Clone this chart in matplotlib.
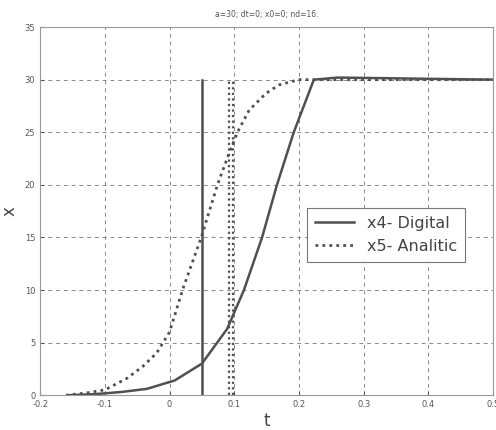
import matplotlib.pyplot as plt
import numpy as np

# digital response (solid)
t_dig = [-0.155, -0.115, -0.075, -0.035, 0.008, 0.05, 0.089, 0.115, 0.143, 0.166, 0.192, 0.223, 0.26, 0.5]
x_dig = [0.0, 0.1, 0.3, 0.6, 1.4, 3.0, 6.3, 10.0, 15.0, 20.0, 25.0, 30.0, 30.2, 30.0]

# analytic response (dotted)
t_ana = [-0.16, -0.13, -0.1, -0.066, -0.042, -0.02, 0.0, 0.02, 0.049, 0.074, 0.092, 0.105, 0.123, 0.149, 0.169, 0.2, 0.5]
x_ana = [0.0, 0.2, 0.5, 1.6, 2.7, 4.0, 6.0, 10.0, 15.0, 20.0, 23.0, 25.0, 27.1, 28.7, 29.5, 30.0, 30.0]

# marker lines
t_mark_dig = [0.05]
t_mark_ana = [0.092, 0.098]
x_mark_top = 30

xticks = [-0.2, -0.1, 0, 0.1, 0.2, 0.3, 0.4, 0.5]
xticklabels = ['-0.2', '-0.1', '0', '0.1', '0.2', '0.3', '0.4', '0.5']
yticks = [0, 5, 10, 15, 20, 25, 30, 35]

col = '#505050'

fig = plt.figure(figsize=(4.96, 4.30), dpi=100)
ax = fig.add_axes([0.081, 0.081, 0.913, 0.856])

ax.plot(t_dig, x_dig, color=col, lw=1.8, label='x4- Digital')
ax.plot(t_ana, x_ana, color=col, lw=2.0, ls=(0, (1, 1.5)), label='x5- Analitic')
for tm in t_mark_dig:
    ax.plot([tm, tm], [0, x_mark_top], color=col, lw=1.8)
for tm in t_mark_ana:
    ax.plot([tm, tm], [0, x_mark_top], color=col, lw=1.6, ls=(0, (1, 1.5)))

ax.set_xlim(-0.2, 0.5)
ax.set_ylim(0, 35)
ax.set_xticks(xticks)
ax.set_xticklabels(xticklabels)
ax.set_yticks(yticks)
ax.tick_params(direction='in', labelsize=6, colors='#555555', length=3)
ax.grid(True, ls=(0, (4, 4)), color='#888888', lw=0.7)
for s in ax.spines.values():
    s.set_color('#999999')

ax.set_xlabel('t', fontsize=12, color='#444444', labelpad=2)
ax.set_ylabel('x', fontsize=12, color='#444444')
ax.yaxis.set_label_coords(-0.048, 0.5)
ax.set_title('a=30; dt=0; x0=0; nd=16.', fontsize=5.5, color='#555555', pad=7)

leg = ax.legend(loc='center right', bbox_to_anchor=(0.955, 0.436), fontsize=11.5,
                fancybox=False, framealpha=1, edgecolor='#777777',
                handlelength=2.4, labelcolor='#444444', borderpad=0.5)
leg.get_frame().set_linewidth(0.8)

fig.savefig('out.png', dpi=100)
